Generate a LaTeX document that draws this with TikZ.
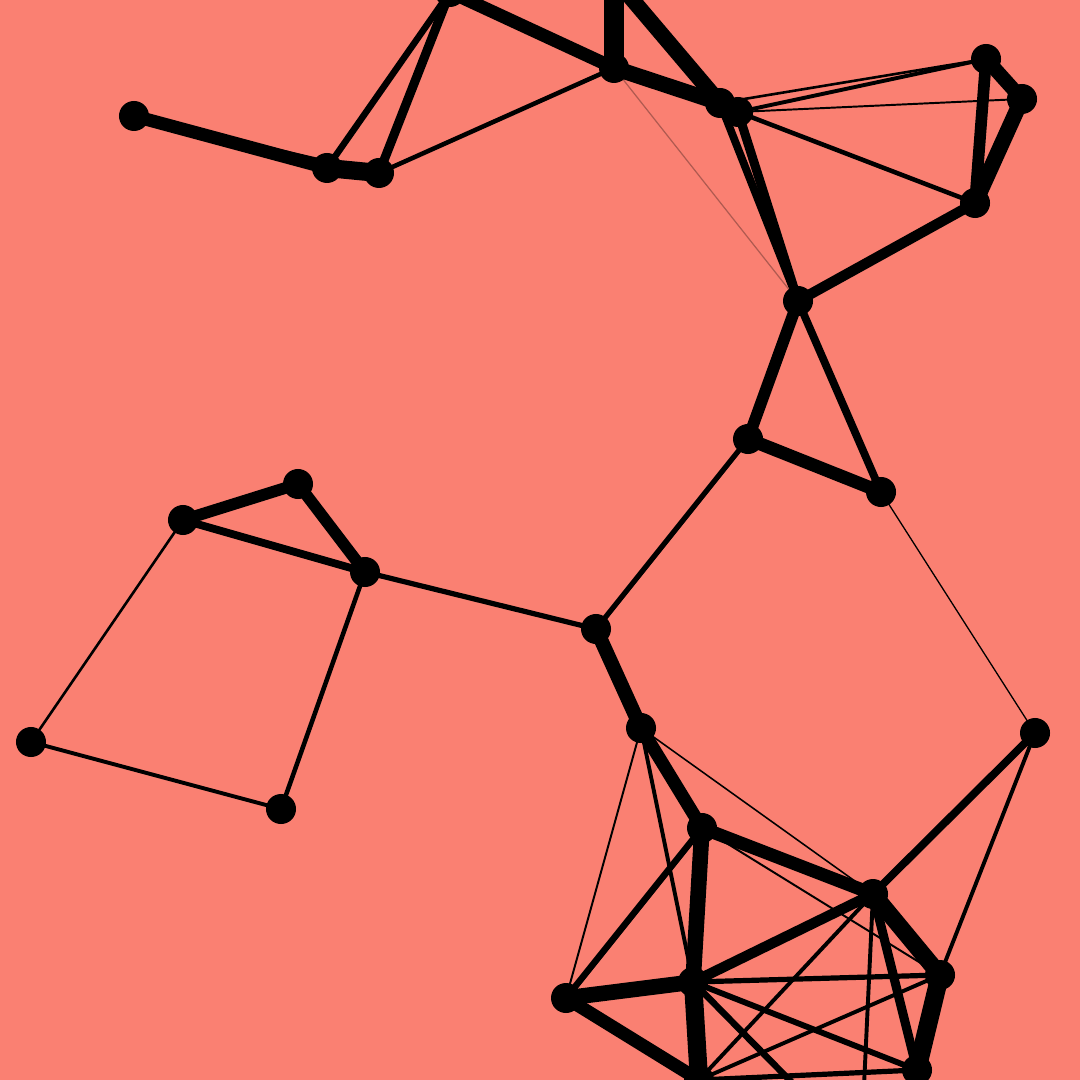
\documentclass[tikz,border=0pt]{standalone}
\usepackage{xcolor}
\usepackage{tikz}
\definecolor{bgsalmon}{RGB}{250,128,114}
\pgfdeclarelayer{canvas}
\pgfdeclarelayer{edges}
\pgfsetlayers{canvas,edges,main}

\begin{document}
\begin{tikzpicture}[
  x=0.01cm, y=-0.01cm,
  dot/.style={circle, fill=black, inner sep=0pt, minimum size=0.3cm},
  link/.style={draw=black, line width=#1*0.37pt},
  hair/.style={draw=bgsalmon!70!black, line width=0.35pt},
]
  % Canvas
  \begin{pgfonlayer}{canvas}
  \fill[bgsalmon] (0,0) rectangle (1080,1080);
  \end{pgfonlayer}
  \useasboundingbox (0,0) rectangle (1080,1080);
  \clip (0,0) rectangle (1080,1080);

  % Vertices (pixel positions, some lie past the edge)
  \foreach \n/\x/\y in {
    a/450/-8, b/614/68, c/720/103, d/738/112, e/986/59, f/1022/99,
    g/975/203, h/798/301, i/748/439, j/881/492,
    k/134/116, l/327/168, m/379/173,
    n/298/484, o/183/520, p/365/572, q/596/629, r/641/728,
    s/31/742, t/281/809, u/1035/733,
    v/702/828, w/873/894, x/940/975, y/693/982, z/566/998,
    aa/699/1080, ab/917/1070,
    top/614/-22, far/300/-66, low/815/1106, deep/862/1128
  } {
    \node[dot] (\n) at (\x,\y) {};
  }

  \begin{pgfonlayer}{edges}
  \clip (0,0) rectangle (1080,1080);
  % Upper part
  \foreach \u/\v/\w in {
    k/l/10, k/m/1.5, l/m/14, a/l/5, a/m/7, m/b/3.5, a/b/10, b/far/1.2,
    b/top/15, b/c/12, top/c/12, c/d/12,
    c/e/2, d/e/3, d/f/1.5, d/g/3.5, e/f/11, e/g/9, f/g/12,
    g/h/8, c/h/6, d/h/7, h/i/9, h/j/6, i/j/10, i/q/4, j/u/1
  } {
    \draw[link=\w] (\u.center) -- (\v.center);
  }
  \draw[hair] (b.center) -- (h.center);

  % Left loop
  \foreach \u/\v/\w in {
    n/o/9, n/p/9, o/p/6, o/s/2, s/t/3, p/t/3.5, p/q/4, q/r/11
  } {
    \draw[link=\w] (\u.center) -- (\v.center);
  }

  % Lower cluster
  \foreach \u/\v/\w in {
    r/v/10, r/z/1.5, r/y/3, r/w/1.2,
    v/w/10, v/x/1.5, v/z/5, v/y/12, u/w/6, u/x/3,
    w/y/8, w/x/13, w/ab/7, w/deep/3, w/aa/3,
    x/y/4, x/aa/3, x/ab/14, y/z/12, y/aa/14, y/ab/4.5, y/low/5,
    z/aa/10, aa/ab/4
  } {
    \draw[link=\w] (\u.center) -- (\v.center);
  }
  \end{pgfonlayer}

\end{tikzpicture}
\end{document}
